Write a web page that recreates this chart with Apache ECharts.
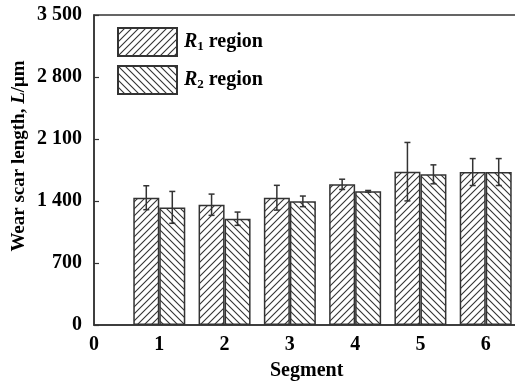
<!DOCTYPE html>
<html><head><meta charset="utf-8">
<script src="https://cdn.jsdelivr.net/npm/echarts@6/dist/echarts.min.js"></script>
<style>html,body{margin:0;padding:0;background:#fff}#c{width:515px;height:389px}</style>
</head><body><div id="c"></div>
<script>
var segments = [1, 2, 3, 4, 5, 6];
var r1Values = [1437, 1358, 1437, 1588, 1731, 1727];
var r1Errors = [135, 120, 140, 58, 330, 152];
var r2Values = [1328, 1200, 1396, 1509, 1701, 1727];
var r2Errors = [180, 75, 60, 10, 107, 152];
var xTicks = [0, 1, 2, 3, 4, 5, 6];
var yTicks = [0, 700, 1400, 2100, 2800, 3500];

var LINE = '#333';
function hatch(dir) {
  var s = 7, c = document.createElement('canvas');
  c.width = s; c.height = s;
  var g = c.getContext('2d');
  g.fillStyle = '#fff'; g.fillRect(0, 0, s, s);
  g.strokeStyle = LINE; g.lineWidth = 1.1;
  g.beginPath();
  if (dir > 0) {
    g.moveTo(-1, s + 1); g.lineTo(s + 1, -1);
    g.moveTo(-1, 1); g.lineTo(1, -1);
    g.moveTo(s - 1, s + 1); g.lineTo(s + 1, s - 1);
  } else {
    g.moveTo(-1, -1); g.lineTo(s + 1, s + 1);
    g.moveTo(s - 1, -1); g.lineTo(s + 1, 1);
    g.moveTo(-1, s - 1); g.lineTo(1, s + 1);
  }
  g.stroke();
  return { image: c, repeat: 'repeat' };
}

var BW = 26;
function pairs(vals) { return segments.map(function (s, i) { return [s, vals[i]]; }); }
function errData(vals, errs) { return segments.map(function (s, i) { return [s, vals[i], errs[i]]; }); }
function errRender(offset) {
  return function (params, api) {
    var x = api.value(0), v = api.value(1), e = api.value(2);
    var top = api.coord([x, v + e]), bot = api.coord([x, v - e]);
    var cx = top[0] + offset, cap = 3;
    var st = { stroke: LINE, lineWidth: 1.5 };
    return { type: 'group', children: [
      { type: 'line', shape: { x1: cx, y1: top[1], x2: cx, y2: bot[1] }, style: st },
      { type: 'line', shape: { x1: cx - cap, y1: top[1], x2: cx + cap, y2: top[1] }, style: st },
      { type: 'line', shape: { x1: cx - cap, y1: bot[1], x2: cx + cap, y2: bot[1] }, style: st }
    ]};
  };
}

var FONT = '"Liberation Serif", "Times New Roman", serif';
var FS = 20;
var chart = echarts.init(document.getElementById('c'));
chart.setOption({
  animation: false,
  textStyle: { fontFamily: FONT },
  grid: { left: 94, top: 15, bottom: 64, right: -36, containLabel: false, outerBoundsMode: 'none',
    show: true, borderColor: LINE, borderWidth: 1.5 },
  legend: {
    orient: 'vertical', left: 117, top: 27, padding: 0, itemWidth: 59, itemHeight: 28, itemGap: 8,
    icon: 'rect', selectedMode: false,
    data: ['R1', 'R2'],
    formatter: function (n) { return '{i|R}{s|' + n.charAt(1) + '}{b| region}'; },
    textStyle: {
      fontFamily: FONT, color: '#000', padding: [0, 0, 0, 2],
      rich: {
        i: { fontFamily: FONT, fontSize: FS, fontWeight: 'bold', fontStyle: 'italic', color: '#000' },
        s: { fontFamily: FONT, fontSize: 13, fontWeight: 'bold', color: '#000', verticalAlign: 'bottom', padding: [9, 0, 0, 0] },
        b: { fontFamily: FONT, fontSize: FS, fontWeight: 'bold', color: '#000' }
      }
    }
  },
  xAxis: {
    type: 'value', min: 0, max: 7, interval: 1,
    axisLine: { lineStyle: { color: LINE, width: 1.5 } },
    axisTick: { show: false }, splitLine: { show: false },
    axisLabel: { fontSize: FS, fontWeight: 'bold', color: '#000', fontFamily: FONT, margin: 10,
      formatter: function (v) { return xTicks.indexOf(v) >= 0 ? String(v) : ''; } }
  },
  yAxis: {
    type: 'value', min: 0, max: 3500, interval: 700,
    axisLine: { show: true, lineStyle: { color: LINE, width: 1.5 } },
    axisTick: { inside: true, length: 5, lineStyle: { color: LINE, width: 1.2 } },
    splitLine: { show: false },
    axisLabel: { fontSize: FS, fontWeight: 'bold', color: '#000', fontFamily: FONT, margin: 12,
      formatter: function (v) { return yTicks.indexOf(v) < 0 ? '' : (v >= 1000 ? Math.floor(v / 1000) + ' ' + String(v % 1000).padStart(3, '0') : String(v)); } }
  },
  graphic: [
    { type: 'text', left: 270, top: 361, style: { text: 'Segment', font: 'bold ' + FS + 'px ' + FONT, fill: '#000' } },
    { type: 'text', x: 19, y: 156, rotation: Math.PI / 2,
      style: { text: '{b|Wear scar length, }{i|L}{b|/μm}', align: 'center', verticalAlign: 'middle',
        rich: {
          b: { fontFamily: FONT, fontSize: 19, fontWeight: 'bold', fill: '#000' },
          i: { fontFamily: FONT, fontSize: 19, fontWeight: 'bold', fontStyle: 'italic', fill: '#000' } } } }
  ],
  series: [
    { name: 'R1', type: 'bar', barWidth: BW, barGap: '0%', data: pairs(r1Values),
      itemStyle: { color: hatch(1), borderColor: LINE, borderWidth: 1.5 } },
    { name: 'R2', type: 'bar', barWidth: BW, barGap: '0%', data: pairs(r2Values),
      itemStyle: { color: hatch(-1), borderColor: LINE, borderWidth: 1.5 } },
    { type: 'custom', renderItem: errRender(-BW / 2), data: errData(r1Values, r1Errors), z: 10 },
    { type: 'custom', renderItem: errRender(BW / 2), data: errData(r2Values, r2Errors), z: 10 }
  ]
});
</script></body></html>
